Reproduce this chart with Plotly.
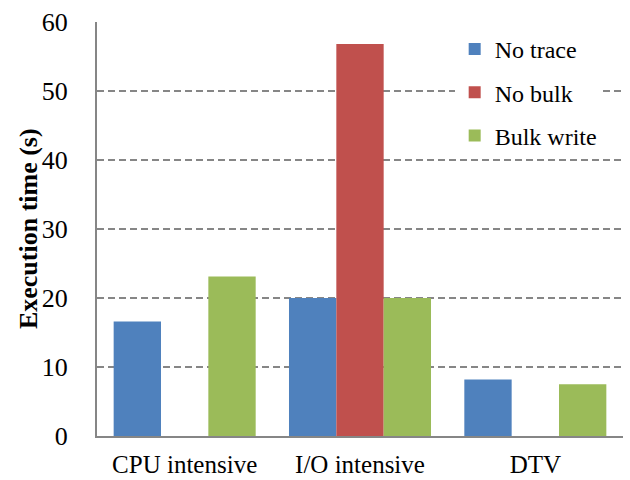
import plotly.graph_objects as go

categories = ["CPU intensive", "I/O intensive", "DTV"]
series_names = ["No trace", "No bulk", "Bulk write"]
no_trace = [16.6, 20.0, 8.2]
no_bulk = [None, 56.8, None]
bulk_write = [23.1, 20.0, 7.5]
colors = ["#4F81BD", "#C0504D", "#9BBB59"]
y_ticks = [0, 10, 20, 30, 40, 50, 60]
y_title = "Execution time (s)"

FONT = "Liberation Serif"
GRAY = "#868686"

fig = go.Figure()
for i, (name, vals) in enumerate(zip(series_names, [no_trace, no_bulk, bulk_write])):
    fig.add_trace(go.Bar(
        x=categories, y=vals, name=name,
        marker=dict(color=colors[i], line=dict(width=0)),
        legendgroup=name,
    ))

fig.update_layout(
    width=630, height=480,
    margin=dict(l=97, r=7, t=22, b=44),
    paper_bgcolor="white", plot_bgcolor="white",
    barmode="group", bargap=0.19, bargroupgap=0,
    font=dict(family=FONT, size=24, color="black"),
    showlegend=True,
    legend=dict(
        x=0.68, y=0.988, xanchor="left", yanchor="top",
        bgcolor="white", borderwidth=0,
        font=dict(family=FONT, size=24, color="black"),
        traceorder="grouped", tracegroupgap=9,
    ),
    xaxis=dict(
        showline=True, linecolor=GRAY, linewidth=2,
        ticks="", showgrid=False, automargin=False,
        tickfont=dict(family=FONT, size=25),
        ticklabelstandoff=5,
    ),
    yaxis=dict(
        range=[0, 60], tickvals=y_ticks,
        showline=True, linecolor=GRAY, linewidth=2,
        showgrid=True, gridcolor=GRAY, gridwidth=1.5, griddash="7px,4px",
        ticks="", zeroline=False, automargin=False,
        tickfont=dict(family=FONT, size=26),
        ticklabelstandoff=22,
    ),
    annotations=[dict(
        text="<b>" + y_title + "</b>", textangle=-90,
        xref="paper", yref="paper", x=-0.131, y=0.5,
        xanchor="center", yanchor="middle", showarrow=False,
        font=dict(family=FONT, size=26, color="black"),
    )],
)

fig.write_html("out.html")
